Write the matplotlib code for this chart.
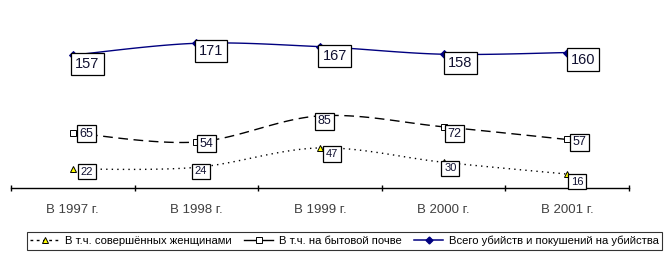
import numpy as np
import matplotlib
matplotlib.use("Agg")
import matplotlib.pyplot as plt
from matplotlib.lines import Line2D

plt.rcParams["font.family"] = ["Liberation Sans", "DejaVu Sans"]

# data
years = ["В 1997 г.", "В 1998 г.", "В 1999 г.", "В 2000 г.", "В 2001 г."]
total = [157, 171, 167, 158, 160]      # Всего убийств и покушений на убийства
domestic = [65, 54, 85, 72, 57]        # В т.ч. на бытовой почве
women = [22, 24, 47, 30, 16]           # В т.ч. совершённых женщинами

names = ["В т.ч. совершённых женщинами",
         "В т.ч. на бытовой почве",
         "Всего убийств и покушений на убийства"]

# label box placement (pixels: left edge dx, centre dy downward)
total_off = [(1, 8.5), (1, 8), (1, 9), (3, 9), (2, 7)]
domestic_off = [(5, 1), (2, 1.5), (-4, 5.5), (2, 7), (4, 3)]
women_off = [(6, 2.5), (-3, 4), (4, 6), (-1, 6), (2, 7.5)]


def smooth(x, y, n=30):
    """Excel-like smoothed line: Catmull-Rom through the points."""
    x = np.asarray(x, float)
    y = np.asarray(y, float)
    px = np.concatenate([[x[0]], x, [x[-1]]])
    py = np.concatenate([[y[0]], y, [y[-1]]])
    xs, ys = [], []
    t = np.linspace(0, 1, n)
    for i in range(1, len(px) - 2):
        p0, p1, p2, p3 = (np.array([px[j], py[j]]) for j in (i - 1, i, i + 1, i + 2))
        c1 = p1 + (p2 - p0) / 6
        c2 = p2 - (p3 - p1) / 6
        pts = (np.outer((1 - t) ** 3, p1) + np.outer(3 * (1 - t) ** 2 * t, c1)
               + np.outer(3 * (1 - t) * t ** 2, c2) + np.outer(t ** 3, p2))
        xs.extend(pts[:, 0])
        ys.extend(pts[:, 1])
    return xs, ys


fig = plt.figure(figsize=(6.72, 2.57), dpi=100)
ax = fig.add_axes([11 / 672, 69.4 / 257, 618 / 672, 168.8 / 257])

x = np.arange(len(years))
series = [
    (women, dict(color="black", lw=1.0, dashes=(1, 3)), "^", "#ffff00", 8, 0.25, women_off),
    (domestic, dict(color="black", lw=1.0, dashes=(7, 4)), "s", "white", 9, 0.2, domestic_off),
    (total, dict(color="#000080", lw=1.0), "D", "#000080", 10.5, 0.28, total_off),
]

for vals, lstyle, mk, mfc, fs, pad, offs in series:
    sx, sy = smooth(x, vals)
    ax.plot(sx, sy, zorder=2, **lstyle)
    ax.plot(x, vals, ls="none", marker=mk, ms=4.5 if mk != "D" else 4,
            mfc=mfc, mec="black" if mk != "D" else "#000080", mew=0.7, zorder=3)
    for xi, v, (dx, dy) in zip(x, vals, offs):
        ax.annotate(str(v), (xi, v), xytext=(dx + 1.5, -dy), textcoords="offset pixels",
                    ha="left", va="center", fontsize=fs, color="#101030", zorder=5,
                    bbox=dict(boxstyle=f"square,pad={pad}", fc="white", ec="black", lw=0.9))

ax.set_xlim(-0.5, len(years) - 0.5)
ax.set_ylim(0, 200)
for s in ["top", "right", "left"]:
    ax.spines[s].set_visible(False)
ax.spines["bottom"].set_linewidth(1.0)
ax.set_yticks([])
ax.set_xticks(np.arange(-0.5, len(years)), labels=[])
ax.tick_params(axis="x", which="major", direction="inout", length=5, width=1)
ax.set_xticks(x, labels=years, minor=True)
ax.tick_params(axis="x", which="minor", length=0, pad=12, labelsize=9.5, labelcolor="#404040")

handles = [
    Line2D([], [], color="black", lw=1.0, dashes=(2, 2.5), marker="^", mfc="#ffff00",
           mec="black", ms=4.5, mew=0.7),
    Line2D([], [], color="black", lw=1.0, marker="s", mfc="white", mec="black", ms=4.5, mew=0.7),
    Line2D([], [], color="#000080", lw=1.1, marker="D", mfc="#000080", mec="#000080", ms=3.5),
]
leg = fig.legend(handles, names, loc="center", bbox_to_anchor=(344.5 / 672, 1 - 241 / 257),
                 ncol=3, fontsize=8.1, frameon=True, fancybox=False, handlelength=2.6,
                 handletextpad=0.5, columnspacing=1.1, borderpad=0.3, borderaxespad=0)
leg.get_frame().set_edgecolor("black")
leg.get_frame().set_linewidth(0.8)

fig.savefig("out.png", dpi=100)
